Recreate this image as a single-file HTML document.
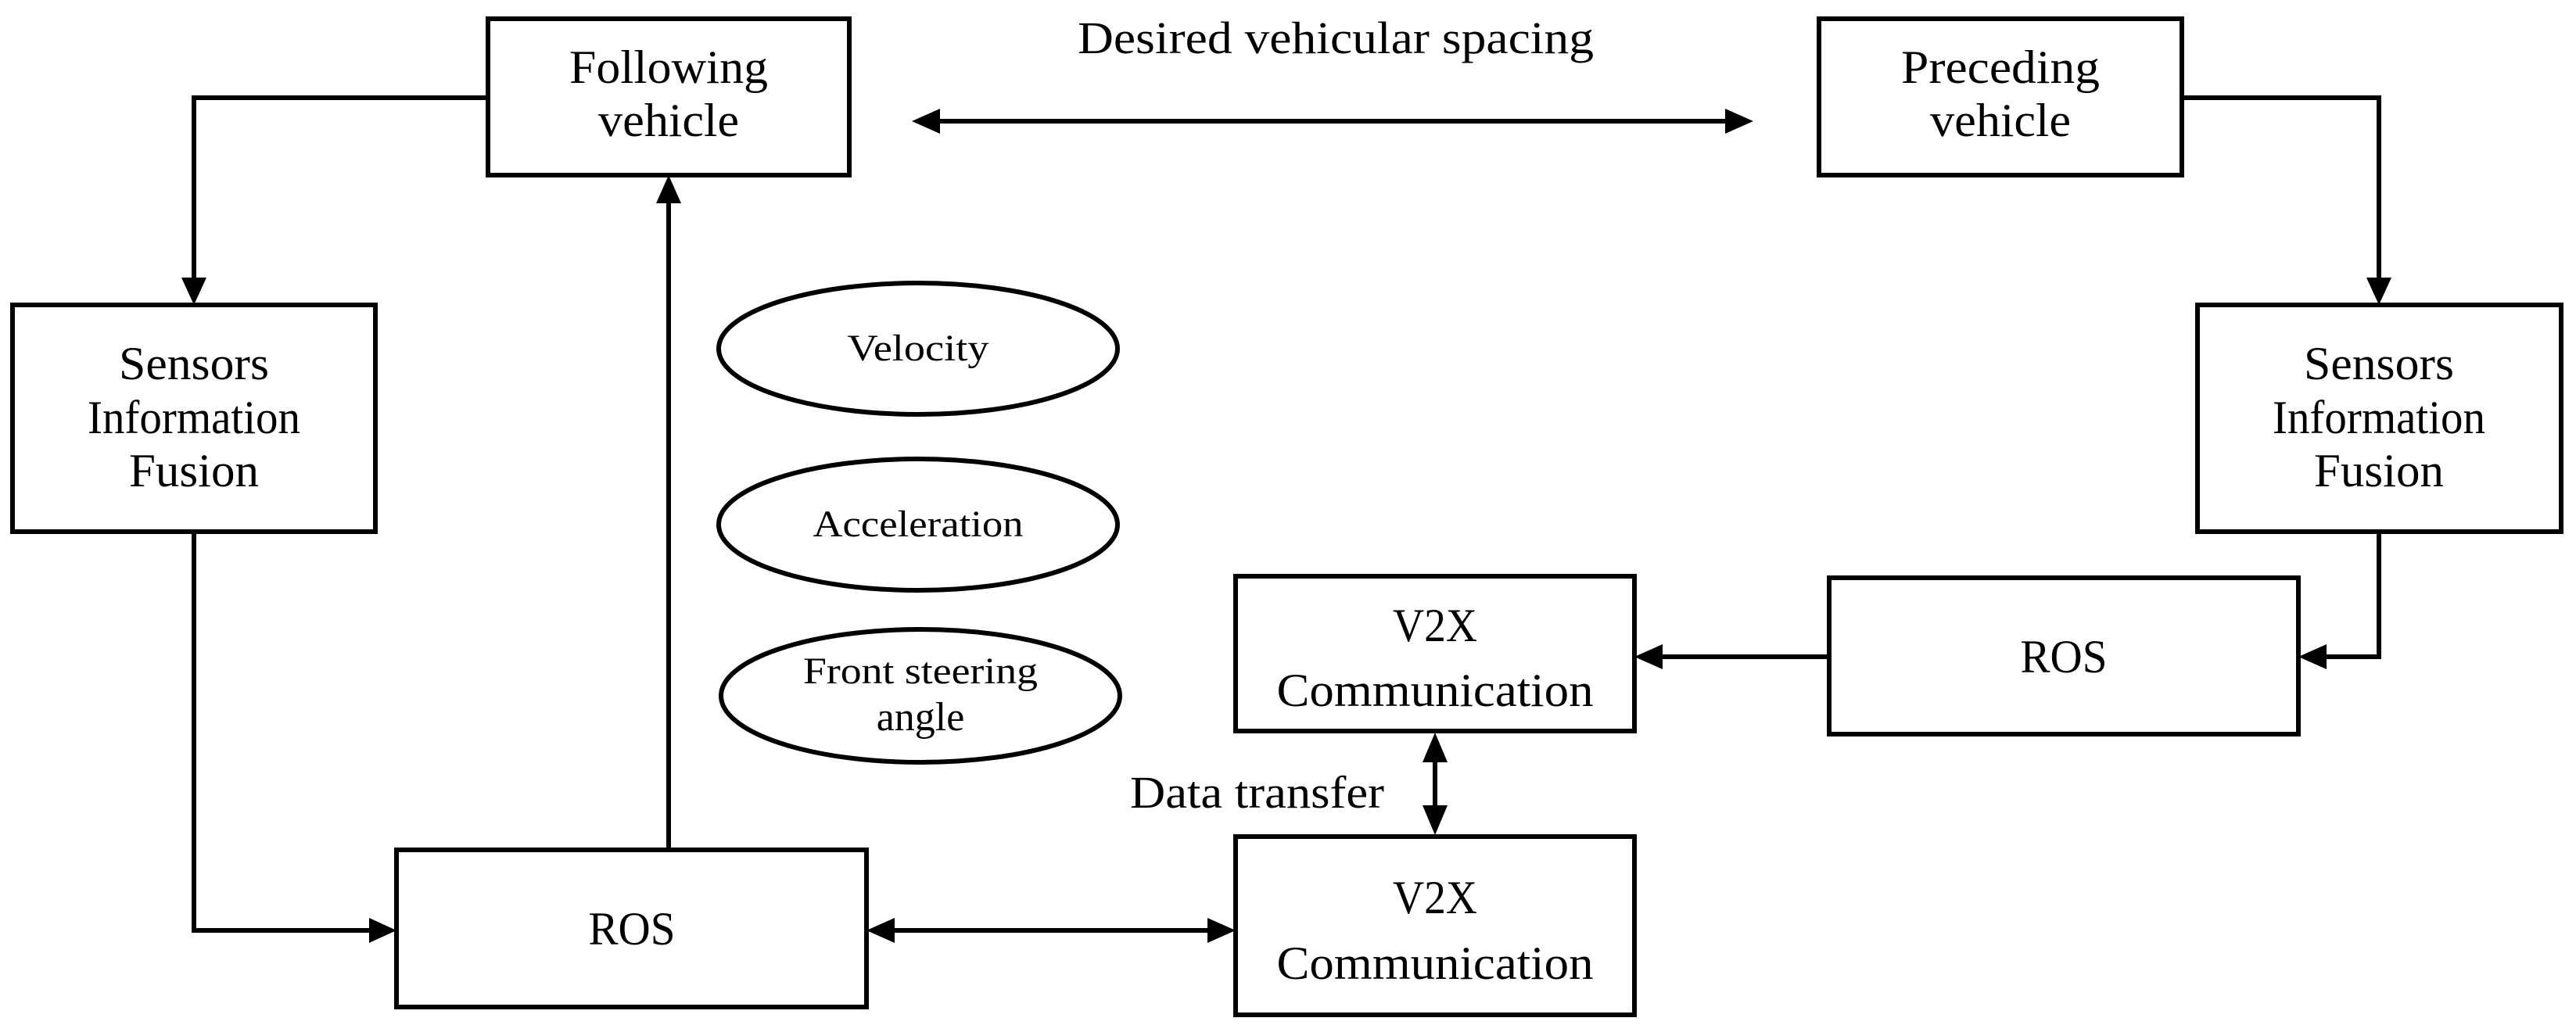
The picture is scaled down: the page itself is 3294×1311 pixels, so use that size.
<!DOCTYPE html>
<html><head><meta charset="utf-8"><style>
html,body{margin:0;padding:0;background:#fff;}
svg{display:block;}
text{font-family:"Liberation Serif",serif;fill:#000;}
</style></head><body>
<svg width="3294" height="1311" viewBox="0 0 3294 1311" xmlns="http://www.w3.org/2000/svg">
<g fill="none" stroke="#000" stroke-width="6">
<rect x="624" y="24" width="462" height="200"/>
<rect x="2326" y="24" width="464" height="200"/>
<rect x="16" y="390" width="464" height="290"/>
<rect x="2810" y="390" width="465" height="290"/>
<rect x="507" y="1087" width="601" height="201"/>
<rect x="2339" y="739" width="600" height="200"/>
<rect x="1580" y="737" width="510" height="198"/>
<rect x="1580" y="1070" width="510" height="228"/>
<ellipse cx="1174" cy="446" rx="255" ry="84"/>
<ellipse cx="1174" cy="671" rx="255" ry="84"/>
<ellipse cx="1177" cy="890" rx="255" ry="85"/>
<polyline points="624,125 248,125 248,355"/>
<polyline points="248,680 248,1190 472,1190"/>
<line x1="855" y1="1087" x2="855" y2="260"/>
<line x1="1200" y1="155" x2="2208" y2="155"/>
<line x1="1143" y1="1190" x2="1545" y2="1190"/>
<polyline points="2790,125 3042,125 3042,355"/>
<polyline points="3042,680 3042,840 2975,840"/>
<line x1="2339" y1="840" x2="2125" y2="840"/>
<line x1="1835" y1="970" x2="1835" y2="1035"/>
</g>
<g fill="#000">
<polygon points="248,390 232,355 264,355"/>
<polygon points="507,1190 472,1174 472,1206"/>
<polygon points="855,224 839,260 871,260"/>
<polygon points="1166,155 1202,139 1202,171"/>
<polygon points="2242,155 2206,139 2206,171"/>
<polygon points="1108,1190 1144,1174 1144,1206"/>
<polygon points="1580,1190 1544,1174 1544,1206"/>
<polygon points="3042,390 3026,355 3058,355"/>
<polygon points="2939,840 2975,824 2975,856"/>
<polygon points="2090,840 2126,824 2126,856"/>
<polygon points="1835,937 1819,975 1851,975"/>
<polygon points="1835,1068 1819,1030 1851,1030"/>
</g>
<g font-size="60" text-anchor="middle">
<text x="855" y="106" textLength="254" lengthAdjust="spacingAndGlyphs">Following</text>
<text x="855" y="174" textLength="180" lengthAdjust="spacingAndGlyphs">vehicle</text>
<text x="2558" y="106" textLength="254" lengthAdjust="spacingAndGlyphs">Preceding</text>
<text x="2558" y="174" textLength="180" lengthAdjust="spacingAndGlyphs">vehicle</text>
<text x="248" y="485" textLength="192" lengthAdjust="spacingAndGlyphs">Sensors</text>
<text x="248" y="554" textLength="272" lengthAdjust="spacingAndGlyphs">Information</text>
<text x="248" y="622" textLength="166" lengthAdjust="spacingAndGlyphs">Fusion</text>
<text x="3042" y="485" textLength="192" lengthAdjust="spacingAndGlyphs">Sensors</text>
<text x="3042" y="554" textLength="272" lengthAdjust="spacingAndGlyphs">Information</text>
<text x="3042" y="622" textLength="166" lengthAdjust="spacingAndGlyphs">Fusion</text>
<text x="808" y="1208" textLength="111" lengthAdjust="spacingAndGlyphs">ROS</text>
<text x="2639" y="860" textLength="111" lengthAdjust="spacingAndGlyphs">ROS</text>
<text x="1835" y="820" textLength="108" lengthAdjust="spacingAndGlyphs">V2X</text>
<text x="1835" y="903" textLength="405" lengthAdjust="spacingAndGlyphs">Communication</text>
<text x="1835" y="1168" textLength="108" lengthAdjust="spacingAndGlyphs">V2X</text>
<text x="1835" y="1252" textLength="405" lengthAdjust="spacingAndGlyphs">Communication</text>
</g>
<g font-size="58">
<text x="1378" y="68" textLength="660" lengthAdjust="spacingAndGlyphs">Desired vehicular spacing</text>
<text x="1445" y="1033" textLength="325" lengthAdjust="spacingAndGlyphs">Data transfer</text>
</g>
<g font-size="48" text-anchor="middle">
<text x="1174" y="461" textLength="181" lengthAdjust="spacingAndGlyphs">Velocity</text>
<text x="1174" y="686" textLength="269" lengthAdjust="spacingAndGlyphs">Acceleration</text>
<text x="1177" y="874" textLength="300" lengthAdjust="spacingAndGlyphs">Front steering</text>
<text x="1177" y="934" font-size="52">angle</text>
</g>
</svg>
</body></html>
